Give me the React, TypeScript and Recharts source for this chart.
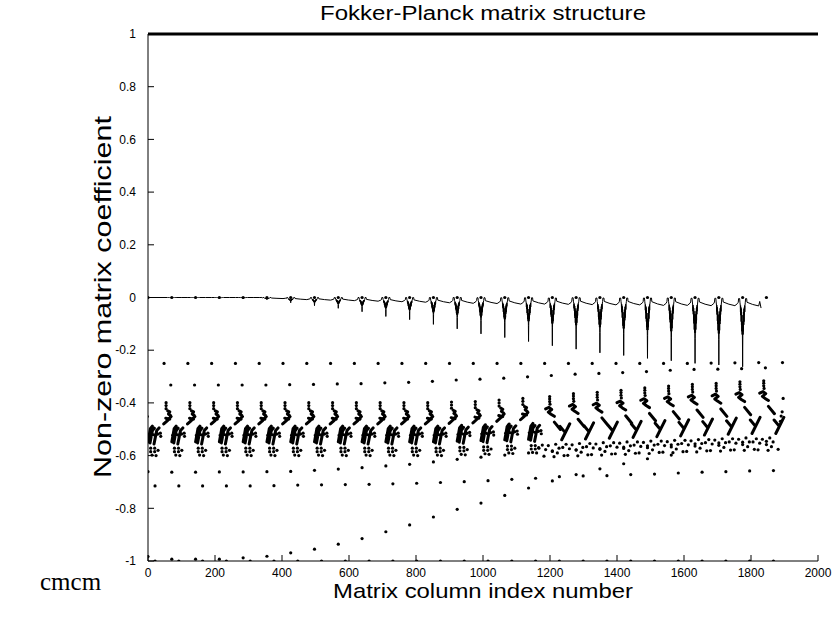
import React from 'react';
import { ComposedChart, XAxis, YAxis, Scatter, Line, ReferenceLine } from 'recharts';

const W = 833;
const H = 619;
const SANS = '"Liberation Sans", Arial, Helvetica, sans-serif';

// first column of every 71-column block of the matrix
const blockCols = [0, 71, 142, 213, 284, 355, 426, 497, 568, 639, 710, 781, 852, 923, 994, 1065, 1136, 1207, 1278, 1349, 1420, 1491, 1562, 1633, 1704, 1775, 1846];

const xTicks = [0, 200, 400, 600, 800, 1000, 1200, 1400, 1600, 1800, 2000];
const yTicks = [-1, -0.8, -0.6, -0.4, -0.2, 0, 0.2, 0.4, 0.6, 0.8, 1];

// isolated coefficients, one per block
const zeroRow = [0, 0, 0, 0, 0, 0, 0, 0, 0, 0, 0, 0, 0, 0, 0, 0, 0, 0, 0, 0, 0, 0, 0, 0, 0, 0, 0];
const rowA = [-0.25, -0.25, -0.25, -0.25, -0.25, -0.25, -0.25, -0.25, -0.25, -0.25, -0.25, -0.25, -0.25, -0.25, -0.25, -0.25, -0.25, -0.25, -0.25, -0.25, -0.25, -0.25, -0.25, -0.249, -0.248, -0.247, -0.247];
const rowB = [null, -0.332, -0.332, -0.332, -0.332, -0.332, -0.331, -0.33, -0.328, -0.327, -0.324, -0.322, -0.318, -0.313, -0.31, -0.306, -0.301, -0.296, -0.291, -0.288, -0.285, -0.281, -0.276, -0.273, -0.272, -0.27, -0.267];
const rowC = [-0.715, -0.715, -0.715, -0.715, -0.715, -0.714, -0.712, -0.711, -0.71, -0.709, -0.707, -0.705, -0.702, -0.699, -0.695, -0.69, -0.686, -0.68, -0.677, -0.676, -0.672, -0.67, -0.666, -0.663, -0.661, -0.658, -0.657];
const rowD = [-0.661, -0.663, -0.663, -0.662, -0.662, -0.661, -0.66, -0.656, -0.651, -0.646, -0.639, -0.633, -0.624, -0.614, -0.606, -0.598, -0.59, -0.584, -0.578, -0.573, -0.568, -0.563, -0.559, -0.555, -0.552, -0.549, -0.546];
const rowE = [-0.983, -0.993, -0.993, -0.993, -0.988, -0.982, -0.969, -0.955, -0.936, -0.915, -0.889, -0.863, -0.833, -0.804, -0.78, -0.751, -0.723, -0.696, -0.672, -0.65, -0.631, -0.612, -0.598];
const rowF = [-1, -1, -1, -1, -1, -1, -1, -1, -1, -1, -1, -1, -1, -1, -1, -1, -1, -1, -1, -1, -1, -1, -1, -1, -1, -1, -1];

// column offset of each row inside its block
const rowOffsets = { zero: 0, A: 48, B: -3, C: 21, D: 0, E: 0, F: 21 };

// near-zero trace: dip depth, baseline and ripple size per block
const dipDepth = [0, 0, 0, -0.003, -0.005, -0.007, -0.016, -0.026, -0.035, -0.047, -0.064, -0.075, -0.092, -0.108, -0.126, -0.139, -0.154, -0.169, -0.182, -0.195, -0.205, -0.215, -0.224, -0.233, -0.239, -0.245];
const lineBase = [0, 0, 0, 0, 0, -0.002, -0.004, -0.005, -0.006, -0.007, -0.008, -0.009, -0.01, -0.011, -0.012, -0.013, -0.013, -0.014, -0.014, -0.015, -0.015, -0.016, -0.016, -0.017, -0.017, -0.018];
const lineBump = [0, 0, 0, 0, 0, 0.002, 0.004, 0.005, 0.006, 0.007, 0.008, 0.009, 0.01, 0.011, 0.011, 0.012, 0.012, 0.012, 0.013, 0.013, 0.013, 0.014, 0.014, 0.014, 0.014, 0.014];
// [column offset, share of dip depth, share of ripple]
const dipShape: [number, number, number][] = [
  [-13, 0, 0], [-12, 0, 1], [-9, 0, 1], [-8, 0, 0],
  [-7, 0.05, 0], [-6.5, 0.15, 0], [-6, 0.05, 0], [-5.5, 0.2, 0], [-5, 0.08, 0], [-4.5, 0.3, 0], [-4, 0.1, 0],
  [-3.5, 0.35, 0], [-3, 0.15, 0], [-2.5, 0.45, 0], [-2, 0.2, 0], [-1.5, 0.5, 0], [-1, 0.3, 0], [-0.5, 0.6, 0],
  [0, 1, 0], [0.5, 0.6, 0], [1, 0.3, 0], [1.5, 0.5, 0], [2, 0.2, 0], [2.5, 0.45, 0], [3, 0.15, 0], [3.5, 0.35, 0],
  [4, 0.1, 0], [4.5, 0.3, 0], [5, 0.08, 0], [5.5, 0.2, 0], [6, 0.05, 0], [6.5, 0.15, 0], [7, 0.05, 0],
  [8, 0, 0], [9, 0, 1], [12, 0, 1], [13, 0, 0], [30, 0, -0.6], [48, 0, -1], [56, 0, -0.4],
];
const lineEnd = [[1826, -0.015], [1830, -0.04]];

// dense coefficient groups inside each block: [column offset, value]
type P = [number, number];
const earlyGroup = {
  upperDots: [[-17, -0.399], [-17, -0.41], [-17, -0.422]] as P[],
  upperStrokes: [
    [[-12, -0.43], [-6, -0.434], [-10, -0.442], [-4, -0.448]],
    [[-2, -0.452], [-12, -0.466], [-24, -0.48]],
    [[-18, -0.458], [-6, -0.462]],
  ] as P[][],
  lowerStrokes: [
    [[0, -0.548], [4, -0.52], [7, -0.498], [13, -0.488]],
    [[6, -0.552], [10, -0.525], [13, -0.506], [19, -0.496]],
    [[2, -0.523], [14, -0.52]],
    [[18, -0.556], [22, -0.53], [26, -0.505], [33, -0.495]],
    [[19, -0.522], [30, -0.518]],
  ] as P[][],
  lowerDots: [[37, -0.515], [38, -0.527], [8, -0.572], [20, -0.572], [8, -0.585], [20, -0.585], [12, -0.598], [24, -0.6], [30, -0.58]] as P[],
};
const lateGroup = {
  upperDots: [[-8, -0.343], [-8, -0.352], [-8, -0.362], [-7, -0.372]] as P[],
  upperStrokes: [
    [[-20, -0.39], [-10, -0.384], [-2, -0.392], [-12, -0.402], [-4, -0.41], [6, -0.418]],
    [[6, -0.44], [24, -0.468]],
  ] as P[][],
  lowerStrokes: [
    [[28, -0.528], [52, -0.467]],
    [[23, -0.477], [38, -0.5]],
  ] as P[][],
  lowerDots: [
    [-40, -0.56], [-30, -0.548], [-20, -0.565], [-12, -0.55], [0, -0.57], [10, -0.545], [20, -0.56],
    [-25, -0.59], [5, -0.592], [35, -0.588], [15, -0.578],
  ] as P[],
};
const groupKind = [0, 0, 0, 0, 0, 0, 0, 0, 0, 0, 0, 0, 0, 0, 0, 0, 0, 1, 1, 1, 1, 1, 1, 1, 1, 1, 1];
const upperShift = [0, 0, 0, 0, 0, 0, 0, 0, 0, 0, 0, 0, 0, 0.002, 0.004, 0.01, 0.016, -0.033, -0.022, -0.017, -0.009, 0, 0.007, 0.013, 0.017, 0.023, 0.027];
const lowerShift = [0, 0, 0, 0, 0, 0, 0, 0, 0, 0, 0, 0, 0, 0.003, 0.005, 0.008, 0.01, -0.012, -0.009, -0.006, -0.003, 0, 0.003, 0.006, 0.009, 0.012, 0.012];
const tailDots: P[] = [[1896, -0.383], [1893, -0.434], [1890, -0.45], [1888, -0.47]];

type Pt = { x: number; y: number | null };

const rowPoints = (vals: (number | null)[], off: number): Pt[] =>
  vals.flatMap((v, k) => (v === null ? [] : [{ x: blockCols[k] + off, y: v }]));

const isolated: Pt[] = [
  ...rowPoints(zeroRow, rowOffsets.zero),
  ...rowPoints(rowA, rowOffsets.A),
  ...rowPoints(rowB, rowOffsets.B),
  ...rowPoints(rowC, rowOffsets.C),
  ...rowPoints(rowD, rowOffsets.D),
  ...rowPoints(rowE, rowOffsets.E),
  ...rowPoints(rowF, rowOffsets.F),
];

const groupDots: Pt[] = [];
const groupStrokes: Pt[] = [];
blockCols.forEach((col, k) => {
  const g = groupKind[k] === 0 ? earlyGroup : lateGroup;
  const up = upperShift[k];
  const lo = lowerShift[k];
  g.upperDots.forEach(([dx, v]) => groupDots.push({ x: col + dx, y: v + up }));
  g.lowerDots.forEach(([dx, v]) => groupDots.push({ x: col + dx, y: v + lo }));
  g.upperStrokes.forEach((s) => {
    s.forEach(([dx, v]) => groupStrokes.push({ x: col + dx, y: v + up }));
    groupStrokes.push({ x: col, y: null });
  });
  g.lowerStrokes.forEach((s) => {
    s.forEach(([dx, v]) => groupStrokes.push({ x: col + dx, y: v + lo }));
    groupStrokes.push({ x: col, y: null });
  });
});
tailDots.forEach(([x, y]) => groupDots.push({ x, y }));

const nearZero: Pt[] = [{ x: 0, y: 0 }];
for (let k = 1; k < dipDepth.length; k++) {
  dipShape.forEach(([dx, df, bf]) => {
    if (k === dipDepth.length - 1 && dx > 48) return;
    nearZero.push({ x: blockCols[k] + dx, y: lineBase[k] + df * dipDepth[k] + bf * lineBump[k] });
  });
}
lineEnd.forEach(([x, y]) => nearZero.push({ x, y }));

const Dot = (props: any) => <circle cx={props.cx} cy={props.cy} r={1.6} fill="#000" />;

const fmtY = (v: number) => String(Math.round(v * 10) / 10);

export default function App() {
  const tickStyle = { fontFamily: SANS, fontSize: 12, fill: '#000' };
  return (
    <div style={{ position: 'relative', width: W, height: H }}>
      <style>{'html, body { margin: 0; padding: 0; }'}</style>
      <ComposedChart width={W} height={H} margin={{ top: 34, right: 15, bottom: 0, left: 0 }}>
        <XAxis
          dataKey="x"
          type="number"
          domain={[0, 2000]}
          ticks={xTicks}
          allowDataOverflow
          height={58}
          tickSize={-6}
          tickMargin={13}
          tick={tickStyle}
          stroke="#000"
          interval={0}
        />
        <XAxis xAxisId="top" orientation="top" type="number" domain={[0, 2000]} ticks={xTicks} height={0} tickSize={-6} tick={false} stroke="#000" interval={0} />
        <YAxis
          dataKey="y"
          type="number"
          domain={[-1, 1]}
          ticks={yTicks}
          allowDataOverflow
          width={148}
          tickSize={-6}
          tickMargin={18}
          tick={tickStyle}
          tickFormatter={fmtY}
          stroke="#000"
          interval={0}
        />
        <YAxis yAxisId="right" orientation="right" type="number" domain={[-1, 1]} ticks={yTicks} width={0} tickSize={-6} tick={false} stroke="#000" interval={0} />
        <ReferenceLine y={1} stroke="#000" strokeWidth={3} />
        <Line data={nearZero} dataKey="y" type="linear" stroke="#000" strokeWidth={1} dot={false} isAnimationActive={false} />
        <Line data={groupStrokes} dataKey="y" type="linear" stroke="#000" strokeWidth={3} strokeLinecap="round" strokeLinejoin="round" dot={false} connectNulls={false} isAnimationActive={false} />
        <Scatter data={groupDots} dataKey="y" shape={Dot} isAnimationActive={false} />
        <Scatter data={isolated} dataKey="y" shape={Dot} isAnimationActive={false} />
      </ComposedChart>
      <svg width={W} height={H} style={{ position: 'absolute', left: 0, top: 0, pointerEvents: 'none' }}>
        <text x={483} y={20} textAnchor="middle" fontFamily={SANS} fontSize={20} textLength={326} lengthAdjust="spacingAndGlyphs">
          Fokker-Planck matrix structure
        </text>
        <text x={483} y={598} textAnchor="middle" fontFamily={SANS} fontSize={21} textLength={300} lengthAdjust="spacingAndGlyphs">
          Matrix column index number
        </text>
        <text x={111} y={297} textAnchor="middle" fontFamily={SANS} fontSize={24} textLength={362} lengthAdjust="spacingAndGlyphs" transform="rotate(-90 111 297)">
          Non-zero matrix coefficient
        </text>
        <text x={40} y={590} fontFamily={'"Liberation Serif", "DejaVu Serif", serif'} fontSize={25}>
          cmcm
        </text>
      </svg>
    </div>
  );
}
